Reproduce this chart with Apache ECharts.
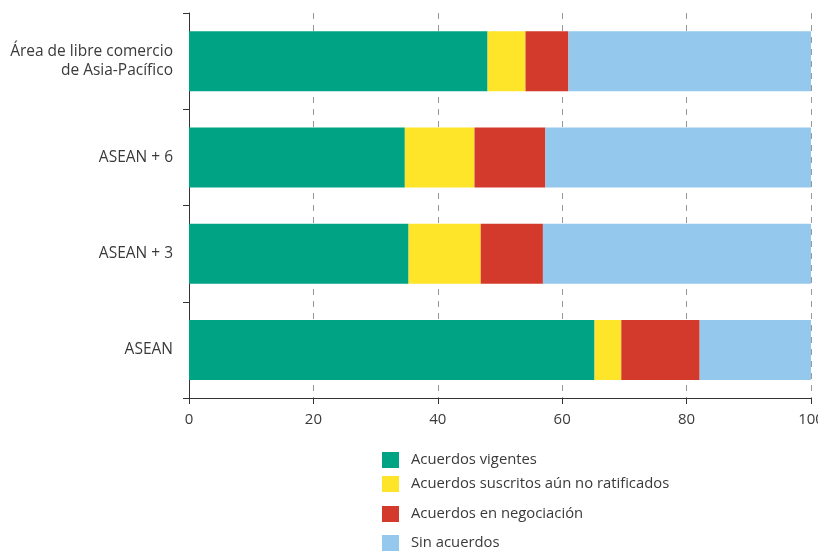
<!DOCTYPE html>
<html><head><meta charset="utf-8">
<script src="https://cdn.jsdelivr.net/npm/echarts@6/dist/echarts.min.js"></script>
<style>html,body{margin:0;padding:0;background:#fff;overflow:hidden}#c{width:818px;height:551px}</style>
</head><body><div id="c"></div>
<script>
const categories = ['Área de libre comercio\nde Asia-Pacífico', 'ASEAN + 6', 'ASEAN + 3', 'ASEAN'];
const seriesNames = ['Acuerdos vigentes', 'Acuerdos suscritos aún no ratificados', 'Acuerdos en negociación', 'Sin acuerdos'];
const vigentes = [48.0, 34.7, 35.3, 65.2];
const suscritos = [6.1, 11.2, 11.6, 4.3];
const negociacion = [6.9, 11.4, 10.0, 12.6];
const sinAcuerdos = [39.0, 42.7, 43.1, 17.9];
const xTicks = [0, 20, 40, 60, 80, 100];

const colors = ['#00A383', '#FFE529', '#D43A2C', '#94C9ED'];
const values = [vigentes, suscritos, negociacion, sinAcuerdos];
const font = '"Open Sans", sans-serif';
const legendTops = [447, 471, 501, 530];

const chart = echarts.init(document.getElementById('c'));
chart.setOption({
  animation: false,
  color: colors,
  grid: {left: 189, right: 7, top: 13, bottom: 153, containLabel: false, outerBoundsMode: 'none'},
  legend: seriesNames.map((n, i) => ({
    data: [n], left: 377, top: legendTops[i], orient: 'vertical',
    icon: 'rect', itemWidth: 17, itemHeight: 16, itemGap: 13,
    textStyle: {fontFamily: font, fontSize: 14.8, color: '#3a3a3a', padding: [1, 0, 0, 7]},
    selectedMode: false
  })),
  xAxis: {
    type: 'value', min: 0, max: 100, interval: 20,
    axisLine: {show: true, lineStyle: {color: '#333', width: 1}},
    axisTick: {show: true, length: 6, lineStyle: {color: '#333'}},
    axisLabel: {fontFamily: font, fontSize: 15, color: '#3a3a3a', margin: 14,
      formatter: v => xTicks.includes(v) ? String(v) : ''},
    splitLine: {show: true, lineStyle: {color: '#999', type: [6, 6], width: 1}}
  },
  yAxis: {
    type: 'category', data: categories, inverse: true,
    axisLine: {show: true, lineStyle: {color: '#333', width: 1}},
    axisTick: {show: true, length: 6, lineStyle: {color: '#333'}},
    axisLabel: {fontFamily: font, fontSize: 15.5, color: '#3a3a3a', margin: 16, lineHeight: 19, align: 'right'}
  },
  series: seriesNames.map((n, i) => ({
    name: n, type: 'bar', stack: 'total', barWidth: 60,
    data: values[i], itemStyle: {color: colors[i]}
  }))
});
</script></body></html>
